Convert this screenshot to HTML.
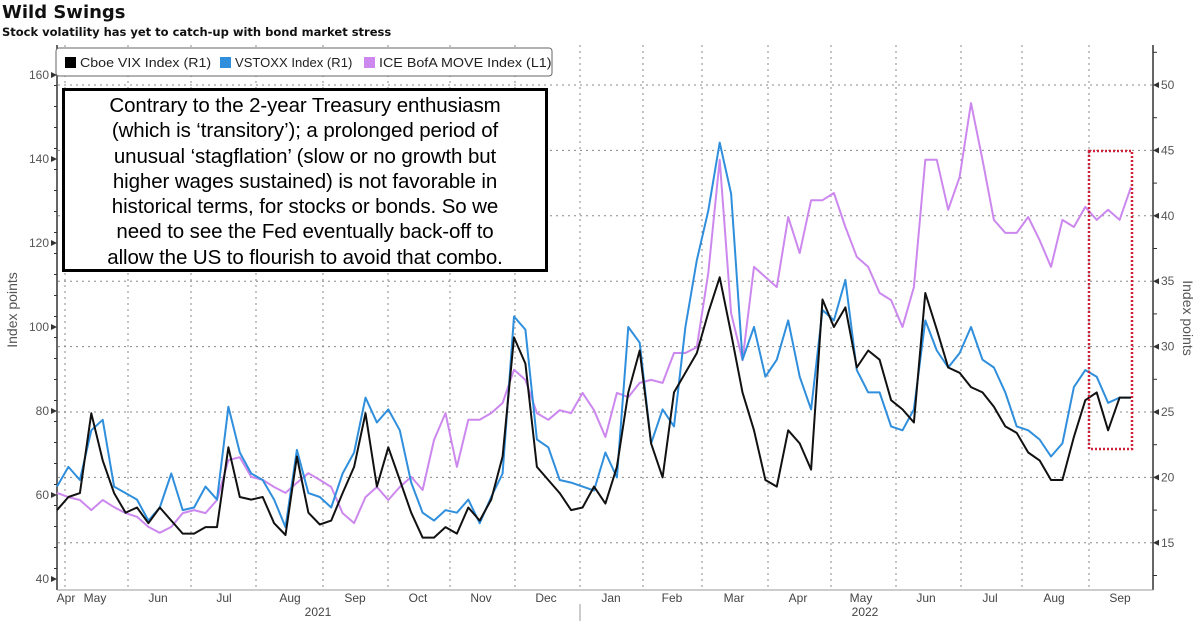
<!DOCTYPE html>
<html><head><meta charset="utf-8">
<style>
body{margin:0;background:#fff;width:1200px;height:621px;overflow:hidden;position:relative;font-family:"Liberation Sans",sans-serif}
#title{position:absolute;left:2px;top:2px;font:bold 18px "DejaVu Sans",sans-serif;color:#111}
#sub{position:absolute;left:2px;top:25px;font:bold 11.5px "DejaVu Sans",sans-serif;color:#111}
#note{position:absolute;left:62px;top:88px;width:480px;height:176px;border:3px solid #000;background:#fff;font-size:20.5px;line-height:25.3px;text-align:center;color:#000;padding-top:2px;white-space:nowrap;letter-spacing:-0.1px}
</style></head><body>
<div id="title">Wild Swings</div>
<div id="sub">Stock volatility has yet to catch-up with bond market stress</div>
<svg id="chart" width="1200" height="621" style="position:absolute;left:0;top:0"></svg>
<div id="note">Contrary to the 2-year Treasury enthusiasm<br>(which is ‘transitory’); a prolonged period of<br>unusual ‘stagflation’ (slow or no growth but<br>higher wages sustained) is not favorable in<br>historical terms, for stocks or bonds. So we<br>need to see the Fed eventually back-off to<br>allow the US to flourish to avoid that combo.</div>
<script>
const vix=[17.5,18.5,18.8,24.9,21.3,18.8,17.3,17.7,16.5,17.7,16.7,15.7,15.7,16.2,16.2,22.3,18.5,18.3,18.5,16.5,15.6,21.6,17.3,16.4,16.7,18.8,20.8,24.9,19.3,22.3,19.8,17.3,15.4,15.4,16.2,15.7,17.7,16.7,18.3,21.6,30.7,28.7,20.8,19.8,18.8,17.5,
17.7,19.3,18.0,20.8,26.5,29.7,22.6,20.0,26.5,28.0,29.5,32.6,35.3,31.0,26.5,23.6,19.8,19.3,23.6,22.6,20.6,33.6,31.5,33.0,28.4,29.7,29.0,25.9,25.2,24.2,34.1,31.3,28.4,28.0,26.9,26.5,25.4,23.9,23.4,21.9,21.3,19.8,19.8,23.1,25.9,26.5,23.6,26.1,26.1];
const vstoxx=[19.3,20.8,19.8,23.6,24.4,19.3,18.8,18.3,16.7,17.7,20.3,17.5,17.7,19.3,18.3,25.4,21.9,20.3,19.8,18.3,16.2,22.1,18.8,18.5,17.7,20.3,21.9,26.1,24.2,25.2,23.6,19.6,17.3,16.7,17.5,17.3,18.3,16.5,18.5,20.3,32.3,31.3,22.9,22.3,19.8,19.6,
19.3,19.0,21.9,20.0,31.5,30.3,22.6,25.2,23.9,31.5,36.6,40.4,45.6,41.7,29.0,31.5,27.7,29.0,32.0,27.7,25.2,32.8,32.0,35.1,28.2,26.5,26.5,23.9,23.6,25.2,32.0,29.7,28.4,29.5,31.5,29.0,28.4,26.5,23.9,23.6,22.9,21.6,22.6,26.9,28.2,27.7,25.7,26.1,26.1];
const move=[60.5,59.5,58.8,56.4,58.8,57.1,55.7,54.8,52.4,51.0,52.4,55.7,56.4,55.7,58.8,68.3,69.0,64.3,63.6,61.9,60.5,62.9,65.2,63.6,61.9,55.7,53.3,59.5,61.9,58.8,61.9,64.3,61.2,73.1,79.5,66.7,77.9,77.9,79.5,81.9,89.8,87.4,79.5,77.9,80.2,79.5,
84.3,80.2,73.8,84.3,83.3,86.7,87.4,86.7,93.8,93.8,95.2,112.9,139.8,103.3,92.1,114.3,111.9,109.5,126.2,117.6,130.2,130.2,131.9,123.8,116.7,114.3,108.1,106.4,100.0,109.5,139.8,139.8,127.9,135.7,153.3,139.8,125.5,122.4,122.4,126.2,120.7,114.3,125.5,123.8,128.6,125.5,127.9,125.5,133.3];
const leftTicks=[40,60,80,100,120,140,160];
const rightTicks=[15,20,25,30,35,40,45,50];
const months=["Apr","May","Jun","Jul","Aug","Sep","Oct","Nov","Dec","Jan","Feb","Mar","Apr","May","Jun","Jul","Aug","Sep"];
const monthX=[66,95,158,224,290,355,418,481,546,611,672,734,798,861,926,990,1054,1120];
const gridX=[65,128,191,256,323,388,450,515,580,643,702,768,831,896,961,1022,1089];

const NS="http://www.w3.org/2000/svg";
const svg=document.getElementById('chart');
function el(t,a,p){const e=document.createElementNS(NS,t);for(const k in a)e.setAttribute(k,a[k]);(p||svg).appendChild(e);return e;}
const yL=v=>75+(160-v)*4.2;
const yR=v=>85+(50-v)*13.08;
const xI=i=>57+i*(1131-57)/(vix.length-1);

rightTicks.forEach(v=>{const l=el('line',{x1:58,x2:1153,y1:yR(v),y2:yR(v),stroke:'#888','stroke-dasharray':'2,4','stroke-width':1});

});
gridX.forEach(x=>{const l=el('line',{x1:x,x2:x,y1:45,y2:590,stroke:'#888','stroke-dasharray':'2,4','stroke-width':1});

});
const ax=el('line',{x1:57,x2:57,y1:45,y2:590,stroke:'#333','stroke-width':1.5});


const ax2=el('line',{x1:1153,x2:1153,y1:45,y2:590,stroke:'#333','stroke-width':1.5});


const ax3=el('line',{x1:57,x2:1153,y1:590,y2:590,stroke:'#999','stroke-width':1});


leftTicks.forEach(v=>{el('path',{d:`M51 ${yL(v)-3}L57 ${yL(v)}L51 ${yL(v)+3}Z`,fill:'#333'});
const t=el('text',{x:49,y:yL(v)+4,'text-anchor':'end','font-size':12,fill:'#555','font-family':'Liberation Sans'});t.textContent=v;

});
for(let v=42.5;v<160;v+=5){if(v%20!==0)el('line',{x1:54,x2:57,y1:yL(v),y2:yL(v),stroke:'#333'});}
rightTicks.forEach(v=>{el('path',{d:`M1159 ${yR(v)-3}L1153 ${yR(v)}L1159 ${yR(v)+3}Z`,fill:'#333'});
const t=el('text',{x:1161,y:yR(v)+4,'font-size':12,fill:'#555','font-family':'Liberation Sans'});t.textContent=v;

});
for(let v=12.5;v<53;v+=5)el('line',{x1:1153,x2:1157,y1:yR(v),y2:yR(v),stroke:'#333'});
months.forEach((m,i)=>{const t=el('text',{x:monthX[i],y:602,'text-anchor':'middle','font-size':12,fill:'#444','font-family':'Liberation Sans'});t.textContent=m;

});
[[318,'2021'],[865,'2022']].forEach(([x,s])=>{const t=el('text',{x:x,y:616,'text-anchor':'middle','font-size':12,fill:'#444','font-family':'Liberation Sans'});t.textContent=s;

});
el('line',{x1:580,x2:580,y1:604,y2:621,stroke:'#999'});
const la=el('text',{x:0,y:0,transform:'translate(17,310) rotate(-90)','text-anchor':'middle','font-size':14,fill:'#555','font-family':'Liberation Sans'});la.textContent='Index points';


const ra=el('text',{x:0,y:0,transform:'translate(1183,318) rotate(90)','text-anchor':'middle','font-size':14,fill:'#555','font-family':'Liberation Sans'});ra.textContent='Index points';



function line(arr,yf,color,name){const d=arr.map((v,i)=>(i?'L':'M')+xI(i).toFixed(1)+' '+yf(v).toFixed(1)).join('');
const p=el('path',{d:d,fill:'none',stroke:color,'stroke-width':2,'stroke-linejoin':'round'});

}
line(move,yL,'#cc88ee','move-line');
line(vstoxx,yR,'#2f8fdd','vstoxx-line');
line(vix,yR,'#111','vix-line');

const box=el('rect',{x:1089,y:151,width:43,height:298,fill:'none',stroke:'#d0203a','stroke-width':2.5,'stroke-dasharray':'2,2'});



const lg=el('rect',{x:56,y:48,width:496,height:28,rx:3,fill:'#fff',stroke:'#666'});


[[65,'#000','Cboe VIX Index (R1)'],[220,'#2f8fdd','VSTOXX Index (R1)'],[364,'#cc88ee','ICE BofA MOVE Index  (L1)']].forEach(([x,c,s])=>{
el('rect',{x:x,y:57,width:11,height:11,fill:c});
const t=el('text',{x:x+15,y:67,'font-size':12.5,fill:'#222','font-family':'Liberation Sans',textLength:s.length*6.9,lengthAdjust:'spacingAndGlyphs'});t.textContent=s;

});
</script>
</body></html>
